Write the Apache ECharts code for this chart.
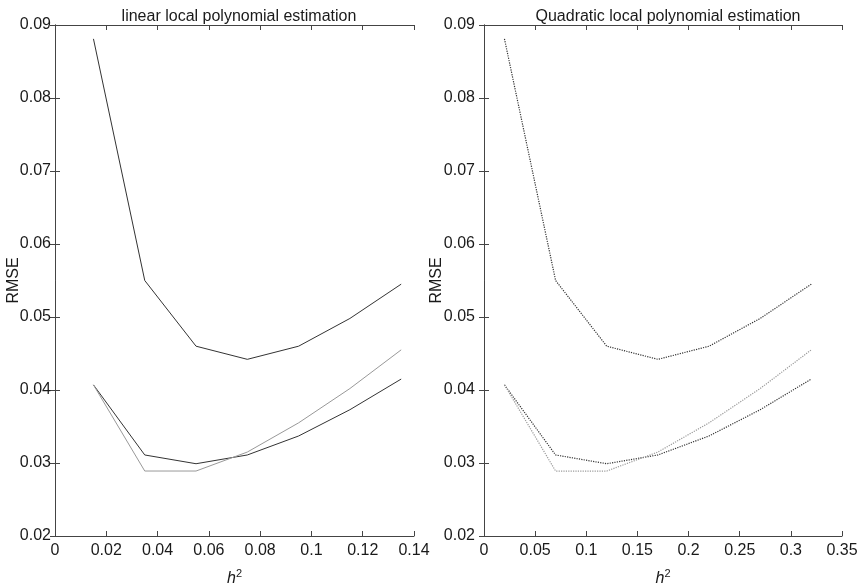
<!DOCTYPE html>
<html>
<head>
<meta charset="utf-8">
<title>RMSE vs h^2</title>
<script src="https://cdn.jsdelivr.net/npm/echarts@6/dist/echarts.min.js"></script>
<style>
  html, body { margin: 0; padding: 0; background: #fff; }
  #chart { width: 858px; height: 583px; }
</style>
</head>
<body>
<div id="chart"></div>
<script>
// bandwidths for each panel
const hLinear = [0.015, 0.035, 0.055, 0.075, 0.095, 0.115, 0.135];
const hQuadratic = [0.02, 0.07, 0.12, 0.17, 0.22, 0.27, 0.32];

// RMSE curves (same three curves drawn in both panels)
const rmseTop = [0.0881, 0.0550, 0.0460, 0.0442, 0.0460, 0.0498, 0.0545];
const rmseDark = [0.0407, 0.0311, 0.0299, 0.0311, 0.0337, 0.0373, 0.0415];
const rmseGray = [0.0407, 0.0289, 0.0289, 0.0315, 0.0355, 0.0402, 0.0455];

const titles = ['linear local polynomial estimation', 'Quadratic local polynomial estimation'];

var chart = echarts.init(document.getElementById('chart'));
var font = 'Liberation Sans, Arial, sans-serif';
var frame = '#444';
var ink = '#1a1a1a';

function pairs(xs, ys) {
    return xs.map(function (x, i) { return [x, ys[i]]; });
}

function xAxes(gridIndex, max, interval) {
    return [
        {
            type: 'value', gridIndex: gridIndex, position: 'bottom',
            min: 0, max: max, interval: interval,
            name: '{i|h}{s|2}', nameLocation: 'middle', nameGap: 32,
            nameTextStyle: {
                rich: {
                    i: { fontStyle: 'italic', fontSize: 16, fontFamily: font, color: ink },
                    s: { fontSize: 11, fontFamily: font, color: ink, verticalAlign: 'top', padding: [0, 0, 10, 0] }
                }
            },
            axisLine: { lineStyle: { color: frame, width: 1 } },
            axisTick: { inside: true, length: 5, lineStyle: { color: frame } },
            axisLabel: { color: ink, fontSize: 16, fontFamily: font, margin: 7 },
            splitLine: { show: false }
        },
        {
            type: 'value', gridIndex: gridIndex, position: 'top',
            min: 0, max: max, interval: interval,
            axisLine: { lineStyle: { color: frame, width: 1 } },
            axisTick: { inside: true, length: 5, lineStyle: { color: frame } },
            axisLabel: { show: false },
            splitLine: { show: false }
        }
    ];
}

function yAxes(gridIndex, labelMargin, nameGap) {
    return [
        {
            type: 'value', gridIndex: gridIndex, position: 'left',
            min: 0.02, max: 0.09, interval: 0.01,
            name: 'RMSE', nameLocation: 'middle', nameGap: nameGap, nameRotate: 90,
            nameMoveOverlap: false,
            nameTextStyle: { color: ink, fontSize: 16, fontFamily: font },
            axisLine: { show: true, lineStyle: { color: frame, width: 1 } },
            axisTick: { show: true, inside: true, length: 5, lineStyle: { color: frame } },
            axisLabel: {
                color: ink, fontSize: 16, fontFamily: font, margin: labelMargin,
                formatter: function (v) { return v.toFixed(2); }
            },
            splitLine: { show: false }
        },
        {
            type: 'value', gridIndex: gridIndex, position: 'right',
            min: 0.02, max: 0.09, interval: 0.01,
            axisLine: { show: true, lineStyle: { color: frame, width: 1 } },
            axisTick: { show: true, inside: true, length: 5, lineStyle: { color: frame } },
            axisLabel: { show: false },
            splitLine: { show: false }
        }
    ];
}

function line(axisIdx, xs, ys, color, type, width) {
    return {
        type: 'line',
        xAxisIndex: axisIdx * 2,
        yAxisIndex: axisIdx * 2,
        data: pairs(xs, ys),
        symbol: 'none',
        silent: true,
        lineStyle: { color: color, width: width, type: type },
        z: 3
    };
}

var option = {
    animation: false,
    backgroundColor: '#fff',
    title: [
        { text: titles[0], left: 234, top: 4, textAlign: 'center',
          textStyle: { fontSize: 16, fontWeight: 'normal', color: ink, fontFamily: font } },
        { text: titles[1], left: 663, top: 4, textAlign: 'center',
          textStyle: { fontSize: 16, fontWeight: 'normal', color: ink, fontFamily: font } }
    ],
    grid: [
        { left: 55, right: 444, top: 25, bottom: 47, outerBoundsMode: 'none', containLabel: false },
        { left: 484, right: 16, top: 25, bottom: 47, outerBoundsMode: 'none', containLabel: false }
    ],
    xAxis: xAxes(0, 0.14, 0.02).concat(xAxes(1, 0.35, 0.05)),
    yAxis: yAxes(0, 4, 33).concat(yAxes(1, 9, 39)),
    series: [
        line(0, hLinear, rmseTop, '#333', 'solid', 1),
        line(0, hLinear, rmseDark, '#333', 'solid', 1),
        line(0, hLinear, rmseGray, '#999', 'solid', 1),
        line(1, hQuadratic, rmseTop, '#333', 'dotted', 1.2),
        line(1, hQuadratic, rmseDark, '#333', 'dotted', 1.2),
        line(1, hQuadratic, rmseGray, '#999', 'dotted', 1.2)
    ]
};

chart.setOption(option);
</script>
</body>
</html>
